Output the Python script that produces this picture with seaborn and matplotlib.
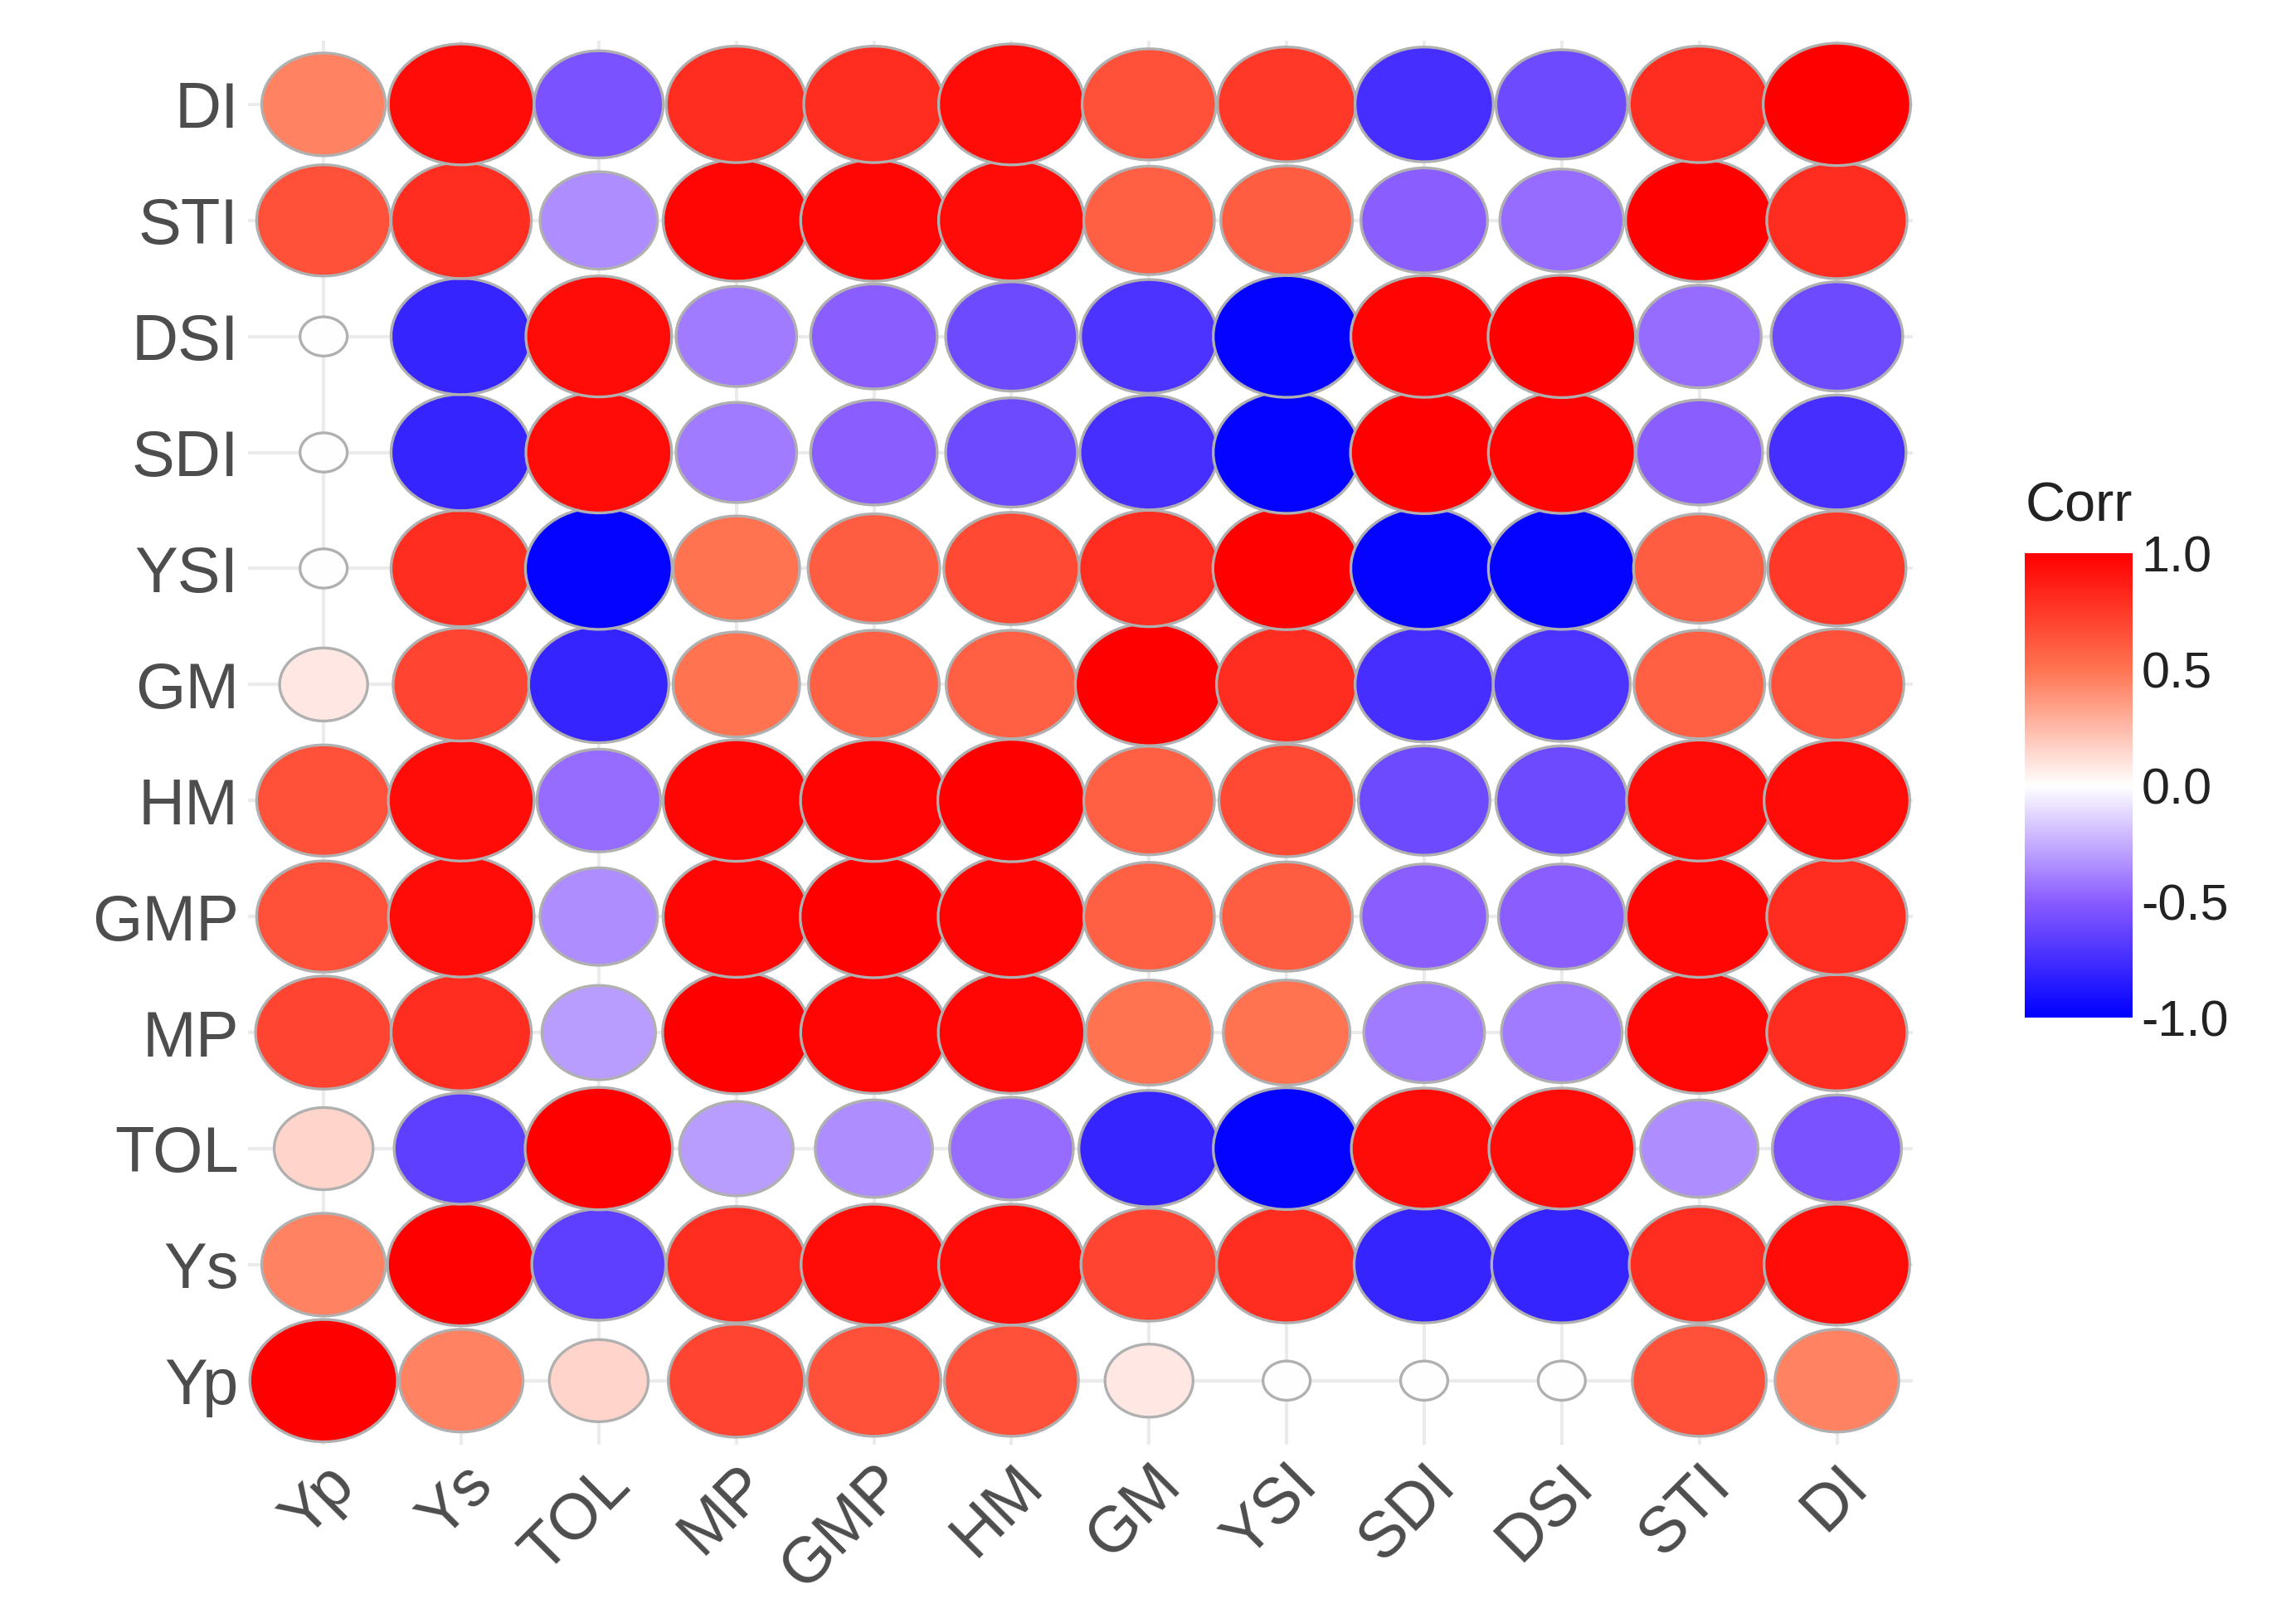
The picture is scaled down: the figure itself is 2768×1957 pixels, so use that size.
import matplotlib
matplotlib.use("Agg")
import matplotlib.pyplot as plt
import numpy as np
import pandas as pd
import seaborn as sns
from matplotlib.colors import LinearSegmentedColormap, Normalize
from matplotlib.path import Path

labels = ["Yp", "Ys", "TOL", "MP", "GMP", "HM", "GM", "YSI", "SDI", "DSI", "STI", "DI"]

corr_rows = [
    [1.00, 0.45, 0.15, 0.70, 0.65, 0.65, 0.08, 0.00, 0.00, 0.00, 0.65, 0.45],
    [0.45, 1.00, -0.65, 0.80, 0.95, 0.95, 0.70, 0.80, -0.80, -0.80, 0.80, 0.95],
    [0.15, -0.65, 1.00, -0.30, -0.35, -0.45, -0.80, -0.98, 0.95, 0.95, -0.35, -0.55],
    [0.70, 0.80, -0.30, 1.00, 0.97, 0.97, 0.50, 0.50, -0.40, -0.40, 0.97, 0.80],
    [0.65, 0.95, -0.35, 0.97, 1.00, 0.98, 0.58, 0.60, -0.50, -0.50, 0.97, 0.80],
    [0.65, 0.95, -0.45, 0.97, 0.98, 1.00, 0.58, 0.68, -0.60, -0.60, 0.95, 0.95],
    [0.08, 0.70, -0.80, 0.50, 0.58, 0.58, 1.00, 0.80, -0.75, -0.72, 0.58, 0.65],
    [0.00, 0.80, -0.98, 0.50, 0.60, 0.68, 0.80, 1.00, -0.98, -0.98, 0.60, 0.75],
    [0.00, -0.80, 0.95, -0.40, -0.50, -0.60, -0.75, -0.98, 1.00, 0.98, -0.50, -0.75],
    [0.00, -0.80, 0.95, -0.40, -0.50, -0.60, -0.72, -0.98, 0.98, 1.00, -0.45, -0.60],
    [0.65, 0.80, -0.35, 0.97, 0.97, 0.95, 0.58, 0.60, -0.50, -0.45, 1.00, 0.80],
    [0.45, 0.95, -0.55, 0.80, 0.80, 0.95, 0.65, 0.75, -0.75, -0.60, 0.80, 1.00],
]

corr = np.array(corr_rows)
n = len(labels)
df = pd.DataFrame(
    [(j, i, corr[i, j]) for i in range(n) for j in range(n)],
    columns=["x", "y", "r"],
)
df["sz"] = np.sqrt(df["r"].abs())

# Lab-like gradient: saturated mid tones as in ggplot's gradient2
cmap = LinearSegmentedColormap.from_list(
    "corr",
    [(0.0, "#0000ff"), (0.25, "#8a5cff"), (0.5, "#ffffff"), (0.75, "#ff7452"), (1.0, "#ff0000")],
)
norm = Normalize(-1, 1)

# slightly flattened circle like the reference
t = np.linspace(0, 2 * np.pi, 60)
ellipse = Path(np.column_stack([np.cos(t), 0.83 * np.sin(t)]))

sns.set_style("white")
plt.rcParams["font.family"] = ["Liberation Sans", "DejaVu Sans"]
fig = plt.figure(figsize=(13.84, 9.785), dpi=200)
ax = fig.add_axes([0.108, 0.11, 0.725, 0.865])

for k in range(n):
    ax.axhline(k, color="#ebebeb", lw=1.5, zorder=0)
    ax.axvline(k, color="#ebebeb", lw=1.5, zorder=0)

sns.scatterplot(
    data=df, x="x", y="y", hue="r", size="sz",
    palette=cmap, hue_norm=norm, sizes=(420, 4100), size_norm=(0, 1),
    marker=ellipse, edgecolor="#b0b0b0", linewidth=1.2, legend=False, ax=ax, zorder=2,
)

ax.set_xlim(-0.55, n - 0.45)
ax.set_ylim(-0.55, n - 0.45)
ax.set_xticks(range(n))
ax.set_yticks(range(n))
ax.set_xticklabels(labels, rotation=45, ha="right", va="top", rotation_mode="anchor",
                   fontsize=28, color="#4d4d4d")
ax.set_yticklabels(labels, fontsize=28, color="#4d4d4d")
ax.set_xlabel("")
ax.set_ylabel("")
ax.tick_params(length=0, pad=4)
for s in ax.spines.values():
    s.set_visible(False)

cax = fig.add_axes([0.882, 0.373, 0.047, 0.286])
sm = plt.cm.ScalarMappable(norm=norm, cmap=cmap)
cb = fig.colorbar(sm, cax=cax, ticks=[-1, -0.5, 0, 0.5, 1])
cb.ax.set_yticklabels(["-1.0", "-0.5", "0.0", "0.5", "1.0"], fontsize=22, color="#222222")
cb.outline.set_visible(False)
cb.ax.tick_params(length=8, color="white", width=1.5, direction="in")
cax.set_title("Corr", fontsize=24, loc="left", pad=14, color="#222222")

fig.savefig("out.png", dpi=200)
